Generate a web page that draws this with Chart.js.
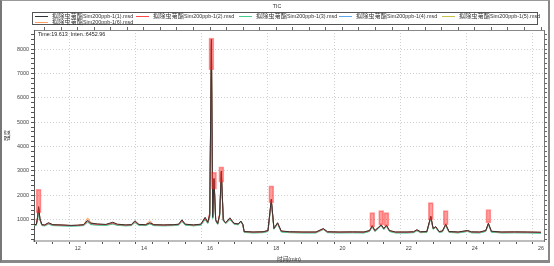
<!DOCTYPE html>
<html><head><meta charset="utf-8">
<script src="https://cdn.jsdelivr.net/npm/chart.js@4.4.0/dist/chart.umd.min.js"></script>
<style>
html,body{margin:0;padding:0;background:#fff;width:554px;height:266px;overflow:hidden;font-family:"Liberation Sans",Arial,"Noto Sans CJK SC",sans-serif;}
#frame{position:absolute;left:0;top:0;width:546px;height:259px;border-left:2px solid #777;border-top:1px solid #999;border-right:2px solid #888;border-bottom:3px solid #888;}
#c{position:absolute;left:0;top:0;}
#legend{position:absolute;left:32px;top:12px;width:504px;height:11px;border:1px solid #555;}
.li{position:absolute;font-size:5.4px;line-height:6px;color:#333;white-space:nowrap}
.li i{position:absolute;left:0;top:3px;width:13px;height:0;border-top:1px solid}
.li span{position:absolute;left:17px;top:0}
.li b{font-weight:normal;font-size:6.2px}
#readout{position:absolute;left:38px;top:31px;font-size:5.4px;line-height:6px;color:#222}
</style></head><body>
<div id="frame"></div>
<canvas id="c" width="554" height="266"></canvas>
<div id="ttl" style="position:absolute;left:0;top:3px;width:554px;height:7px;text-align:center;font-size:5.4px;line-height:7px;color:#333">TIC</div>
<div id="legend"></div>
<div id="readout">Time:19.613&nbsp; Inten.:6452.96</div>
<script>
const times = [10.67,10.75,10.79,10.82,10.86,10.92,11.00,11.12,11.25,11.50,11.80,12.00,12.18,12.30,12.40,12.60,12.85,13.06,13.20,13.45,13.62,13.73,13.85,14.05,14.18,14.30,14.60,14.90,15.05,15.15,15.25,15.50,15.72,15.85,15.93,15.99,16.04,16.08,16.12,16.17,16.23,16.29,16.34,16.40,16.47,16.60,16.72,16.85,16.93,16.99,17.03,17.30,17.60,17.75,17.85,17.93,18.04,18.15,18.40,18.80,19.20,19.42,19.55,19.90,20.30,20.65,20.82,20.90,20.98,21.08,21.17,21.25,21.33,21.42,21.60,21.95,22.15,22.25,22.36,22.55,22.67,22.74,22.82,22.92,23.02,23.12,23.22,23.50,23.78,23.90,24.15,24.33,24.41,24.50,24.80,25.20,25.60,26.00];

const s1 = [800,810,1100,1540,1050,800,790,880,800,790,770,780,800,980,860,830,810,900,820,790,800,960,810,800,880,800,790,800,820,1000,820,790,820,1100,900,1200,8400,1100,2700,1000,850,1200,3000,1000,880,1080,860,830,950,820,520,500,510,560,1850,650,880,540,510,500,500,640,510,500,505,500,560,760,560,680,800,640,780,560,500,500,510,590,510,520,1150,650,720,520,540,820,520,500,560,505,500,560,860,530,500,505,500,490];
const s2 = [790,800,1150,1500,1000,790,780,850,790,780,760,770,790,950,840,810,800,860,800,780,790,920,800,790,860,790,780,790,810,960,810,780,810,1050,880,1300,8300,1200,2650,980,840,1250,2950,990,870,1050,850,820,930,810,510,490,500,550,1800,640,860,530,500,490,490,620,500,490,495,490,550,740,550,670,780,630,760,550,490,490,500,580,500,510,1120,640,700,510,530,800,510,490,550,495,490,550,840,520,490,495,490,480];
const s3 = [760,770,1000,1450,980,760,750,820,760,750,740,750,760,900,800,780,770,820,770,750,760,880,770,760,830,760,750,760,780,930,780,750,780,1000,850,1100,8100,1050,2550,950,810,1150,2850,960,840,1000,820,790,900,780,480,460,470,520,1750,610,830,500,470,460,460,600,470,460,465,460,520,710,520,640,750,600,730,520,460,460,470,550,470,480,1080,610,680,480,500,770,480,460,520,465,460,520,810,490,460,465,460,450];
const s4 = [770,780,1050,1480,990,770,760,830,770,760,745,755,770,920,810,790,780,840,780,760,770,900,780,770,840,770,760,770,790,950,790,760,790,1020,860,1150,8200,1080,2600,960,820,1180,2900,970,850,1020,830,800,910,790,490,470,480,530,1780,620,840,510,480,470,470,610,480,470,475,470,530,720,530,650,760,610,740,530,470,470,480,560,480,490,1100,620,690,490,510,780,490,470,530,475,470,530,820,500,470,475,470,460];
const s5 = [785,790,1080,1420,1000,780,770,840,780,770,755,765,780,940,820,800,790,850,790,770,780,910,790,780,860,780,770,780,800,940,800,770,800,1030,870,1180,8000,1100,2580,970,830,1200,2880,980,860,1030,840,810,920,800,500,480,490,540,1760,630,850,520,490,480,480,620,490,480,485,480,540,730,540,660,770,620,750,540,480,480,490,570,490,500,1090,630,700,500,520,790,500,480,540,485,480,540,830,510,480,485,480,470];
const s6 = [795,805,1120,1480,1020,795,785,860,795,785,765,775,800,1080,880,820,800,870,810,785,795,930,805,800,960,800,785,795,815,980,815,785,815,1080,890,1250,8350,1150,2680,990,845,1220,2980,995,875,1060,855,825,940,815,515,495,505,555,1820,645,870,535,505,495,495,630,505,495,500,495,555,750,555,675,790,635,770,555,495,495,505,585,505,515,1130,645,710,515,535,810,515,495,555,500,495,555,850,525,495,500,495,485];

const seriesNames = ["拟除虫菊酯Sim200ppb-1(1).msd","拟除虫菊酯Sim200ppb-1(2).msd","拟除虫菊酯Sim200ppb-1(3).msd","拟除虫菊酯Sim200ppb-1(4).msd","拟除虫菊酯Sim200ppb-1(5).msd","拟除虫菊酯Sim200ppb-1(6).msd"];
const seriesColors = ["#333333","#ff4a4a","#46cc8c","#5ea6ee","#c8c24a","#ffa060"];
const seriesValues = [s1,s2,s3,s4,s5,s6];

const peakTimes = [10.82,16.04,16.12,16.34,17.85,20.90,21.17,21.33,22.67,23.12,24.41];
const peakLow   = [1290,7150,2250,2540,1700,710,790,750,1000,790,875];
const peakHigh  = [2250,8450,2950,3170,2390,1290,1375,1290,1700,1375,1420];

const xTickLabels = [12,14,16,18,20,22,24,26];
const yTickLabels = [1000,2000,3000,4000,5000,6000,7000,8000];

const legendPos = [[2,0],[103,0],[206,0],[306,0],[409,0],[2,6]];
const lg = document.getElementById('legend');
seriesNames.forEach((n,i)=>{
  const d = document.createElement('div');
  d.className='li';
  d.style.left = legendPos[i][0]+'px';
  d.style.top = legendPos[i][1]+'px';
  const cjk = n.slice(0,5), rest = n.slice(5);
  d.innerHTML = '<i style="border-color:'+seriesColors[i]+'"></i><span><b>'+cjk+'</b>'+rest+'</span>';
  lg.appendChild(d);
});

const datasets = seriesValues.map((vals,i)=>({
  type:'line',
  label: seriesNames[i],
  data: times.map((t,k)=>({x:t,y:vals[k]})),
  borderColor: seriesColors[i],
  borderWidth: 1,
  pointRadius: 0,
  tension: 0,
  fill:false,
  order: i
}));
datasets.push({
  type:'bar',
  label:'peaks',
  data: peakTimes.map((t,k)=>({x:t,y:[peakLow[k],peakHigh[k]]})),
  backgroundColor:'rgba(255,40,40,0.45)',
  borderColor:'rgba(255,30,30,0.45)',
  borderWidth:1,
  borderSkipped:false,
  barThickness:5,
  order:-1
});

const tickFont = {family:'"Liberation Sans",Arial,sans-serif', size:5.4};
const xMin = 10.68, xMax = 26.09, yMin = 130, yMax = 8780;

new Chart(document.getElementById('c'), {
  type:'line',
  data:{datasets},
  options:{
    responsive:false, animation:false, devicePixelRatio:1,
    layout:{padding:{left:0,right:0,top:26,bottom:0}},
    plugins:{legend:{display:false}, tooltip:{enabled:false}, title:{display:false}},
    scales:{
      x:{type:'linear', position:'bottom', min:xMin, max:xMax, offset:false,
        afterFit: s=>{s.height=25;},
        ticks:{stepSize:0.5, includeBounds:false, autoSkip:false, maxRotation:0, padding:1, color:'#444', font:tickFont,
          callback:v=> xTickLabels.includes(v) ? String(v) : ''},
        grid:{color:c=> (c.tick && xTickLabels.includes(c.tick.value)) ? '#cfcfcf' : 'rgba(0,0,0,0)', tickColor:'#555', tickLength:3, lineWidth:1},
        border:{display:true, color:'#bdbdbd', width:2, dash:[1,2]},
        title:{display:true, text:'时间(min)', color:'#333', font:{family:'"Liberation Sans","Noto Sans CJK SC",sans-serif', size:5.6}, padding:{top:1,bottom:3}}
      },
      x2:{type:'linear', position:'top', min:xMin, max:xMax, offset:false,
        afterFit: s=>{s.height=4;},
        ticks:{display:false, stepSize:0.5, includeBounds:false, autoSkip:false},
        grid:{drawOnChartArea:false, tickColor:'#666', tickLength:3},
        border:{display:true, color:'#888', width:1}
      },
      y:{type:'linear', position:'left', min:yMin, max:yMax,
        afterFit: s=>{s.width=34;},
        ticks:{stepSize:200, maxTicksLimit:1000, includeBounds:false, autoSkip:false, padding:2, color:'#444', font:tickFont,
          callback:v=> yTickLabels.includes(v) ? String(v) : ''},
        grid:{color:c=> (c.tick && yTickLabels.includes(c.tick.value)) ? '#cfcfcf' : 'rgba(0,0,0,0)', tickColor:'#555', tickLength:3, lineWidth:1},
        border:{display:true, color:'#555', width:1, dash:[1,2]},
        title:{display:true, text:'强度', color:'#333', font:{family:'"Noto Sans CJK SC",sans-serif', size:5.6}, padding:{top:4,bottom:0}}
      },
      y2:{type:'linear', position:'right', min:yMin, max:yMax,
        afterFit: s=>{s.width=10;},
        ticks:{display:false, stepSize:200, maxTicksLimit:1000, includeBounds:false, autoSkip:false},
        grid:{drawOnChartArea:false, tickColor:'#666', tickLength:3},
        border:{display:true, color:'#777', width:1}
      }
    }
  }
});
</script>
</body></html>
